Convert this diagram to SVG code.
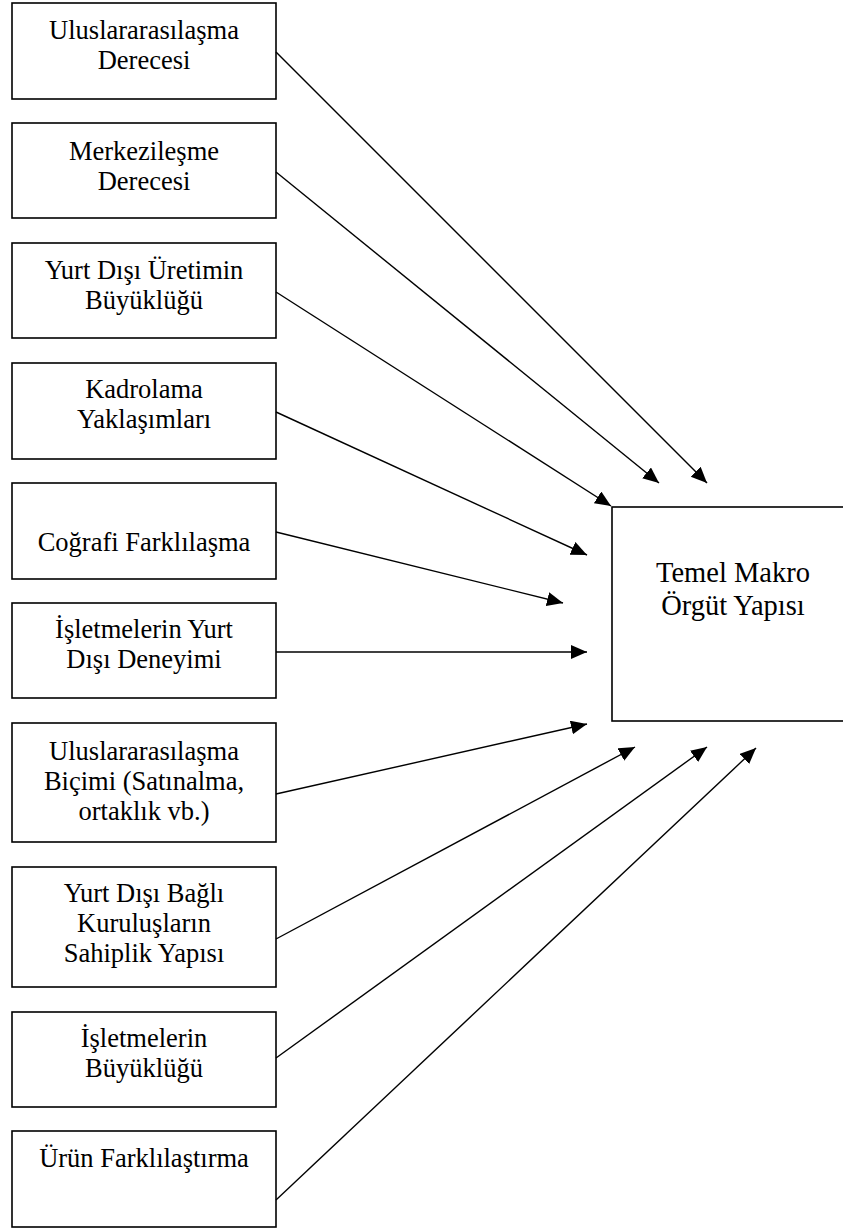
<svg xmlns="http://www.w3.org/2000/svg" width="843" height="1229" viewBox="0 0 843 1229">
<style>
.box{fill:#fff;stroke:#000;stroke-width:1.6}
.t{font-family:"Liberation Serif","Times New Roman",serif;font-size:26.5px;fill:#000;text-anchor:middle}
.tb{font-family:"Liberation Serif","Times New Roman",serif;font-size:28.5px;fill:#000;text-anchor:middle}
.c{stroke:#000;stroke-width:1.4;fill:none;marker-end:url(#ah)}
</style>
<defs>
<marker id="ah" markerUnits="userSpaceOnUse" markerWidth="17" markerHeight="15" refX="16" refY="7" orient="auto">
<path d="M0,0 L16,7 L0,14 z" fill="#000"/>
</marker>
</defs>
<rect width="843" height="1229" fill="#fff"/>
<g id="n1"><rect class="box" x="12" y="3" width="264" height="96"/><text class="t" x="144" y="39">Uluslararasılaşma</text><text class="t" x="144" y="69">Derecesi</text></g>
<g id="n2"><rect class="box" x="12" y="123" width="264" height="95"/><text class="t" x="144" y="160">Merkezileşme</text><text class="t" x="144" y="190">Derecesi</text></g>
<g id="n3"><rect class="box" x="12" y="243" width="264" height="95"/><text class="t" x="144" y="279">Yurt Dışı Üretimin</text><text class="t" x="144" y="309">Büyüklüğü</text></g>
<g id="n4"><rect class="box" x="12" y="363" width="264" height="96"/><text class="t" x="144" y="398">Kadrolama</text><text class="t" x="144" y="428">Yaklaşımları</text></g>
<g id="n5"><rect class="box" x="12" y="483" width="264" height="96"/><text class="t" x="144" y="551">Coğrafi Farklılaşma</text></g>
<g id="n6"><rect class="box" x="12" y="603" width="264" height="95"/><text class="t" x="144" y="638">İşletmelerin Yurt</text><text class="t" x="144" y="668">Dışı Deneyimi</text></g>
<g id="n7"><rect class="box" x="12" y="723" width="264" height="119"/><text class="t" x="144" y="760">Uluslararasılaşma</text><text class="t" x="144" y="790">Biçimi (Satınalma,</text><text class="t" x="144" y="820">ortaklık vb.)</text></g>
<g id="n8"><rect class="box" x="12" y="867" width="264" height="120"/><text class="t" x="144" y="902">Yurt Dışı Bağlı</text><text class="t" x="144" y="932">Kuruluşların</text><text class="t" x="144" y="962">Sahiplik Yapısı</text></g>
<g id="n9"><rect class="box" x="12" y="1012" width="264" height="95"/><text class="t" x="144" y="1047">İşletmelerin</text><text class="t" x="144" y="1077">Büyüklüğü</text></g>
<g id="n10"><rect class="box" x="12" y="1131" width="264" height="96"/><text class="t" x="144" y="1167">Ürün Farklılaştırma</text></g>
<g id="target"><rect class="box" x="612" y="507" width="260" height="214"/><text class="tb" x="733" y="582">Temel Makro</text><text class="tb" x="733" y="615">Örgüt Yapısı</text></g>
<g id="connectors">
<line class="c" x1="276" y1="52" x2="707" y2="483"/>
<line class="c" x1="276" y1="172" x2="659" y2="483"/>
<line class="c" x1="276" y1="292" x2="611" y2="506"/>
<line class="c" x1="276" y1="412" x2="587" y2="555"/>
<line class="c" x1="276" y1="532" x2="563" y2="603"/>
<line class="c" x1="276" y1="652" x2="587" y2="652"/>
<line class="c" x1="276" y1="794" x2="587" y2="724"/>
<line class="c" x1="276" y1="939" x2="635" y2="747"/>
<line class="c" x1="276" y1="1058" x2="707" y2="747"/>
<line class="c" x1="276" y1="1200" x2="756" y2="748"/>
</g>
</svg>
